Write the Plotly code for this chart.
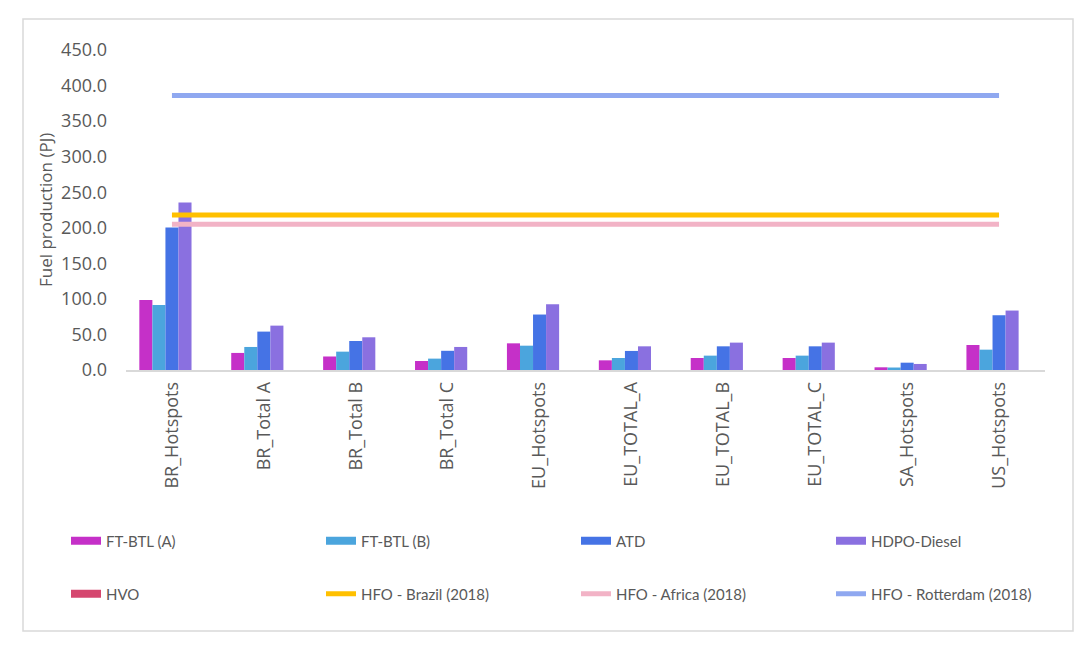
import plotly.graph_objects as go

categories = ["BR_Hotspots", "BR_Total A", "BR_Total B", "BR_Total C", "EU_Hotspots",
              "EU_TOTAL_A", "EU_TOTAL_B", "EU_TOTAL_C", "SA_Hotspots", "US_Hotspots"]
ft_btl_a = [98.5, 24.0, 19.0, 12.7, 37.5, 13.6, 16.9, 16.9, 3.8, 35.2]
ft_btl_b = [91.5, 32.4, 25.8, 16.0, 34.2, 16.9, 20.2, 20.2, 3.5, 28.6]
atd = [200.5, 54.0, 40.8, 27.0, 78.0, 26.8, 33.3, 33.3, 10.3, 77.0]
hdpo_diesel = [235.5, 62.4, 46.0, 32.4, 92.4, 33.3, 38.5, 38.5, 8.5, 83.6]
hvo = [0, 0, 0, 0, 0, 0, 0, 0, 0, 0]
hfo_brazil = 218.0
hfo_africa = 205.0
hfo_rotterdam = 386.0

bar_series = [
    ("FT-BTL (A)", ft_btl_a, "#C530C8"),
    ("FT-BTL (B)", ft_btl_b, "#4BA5DD"),
    ("ATD", atd, "#4573E5"),
    ("HDPO-Diesel", hdpo_diesel, "#8A70E0"),
    ("HVO", hvo, "#D5476F"),
]
line_series = [
    ("HFO - Brazil (2018)", hfo_brazil, "#FFC000"),
    ("HFO - Africa (2018)", hfo_africa, "#F2B3C6"),
    ("HFO - Rotterdam (2018)", hfo_rotterdam, "#8FA8F0"),
]

fig = go.Figure()
for name, vals, col in bar_series:
    fig.add_trace(go.Bar(x=categories, y=vals, name=name, marker_color=col,
                         marker_line_width=0, showlegend=False))
# legend swatches for bar series
for i, (name, vals, col) in enumerate(bar_series):
    fig.add_trace(go.Scatter(x=[None], y=[None], mode="lines", name=name,
                             line=dict(color=col, width=8),
                             legend="legend" if i < 4 else "legend2"))
for name, val, col in line_series:
    fig.add_trace(go.Scatter(x=categories, y=[val] * len(categories), mode="lines",
                             name=name, line=dict(color=col, width=5),
                             legend="legend2"))

# page offset (body margin) of the rendered page
OFF = 8
# target screen positions
L, R, T, B = 126 - OFF, 1045 - OFF, 50 - OFF, 370 - OFF
W, H = 1092, 650
pw, ph = R - L, B - T

def px_x(x):
    return (x - OFF - L) / pw

def px_y(y):
    return (B - (y - OFF)) / ph

legend_common = dict(orientation="h", xanchor="left", yanchor="middle",
                     entrywidth=210, entrywidthmode="pixels",
                     font=dict(family="Lato", size=15, color="#595959"),
                     bgcolor="rgba(0,0,0,0)", itemwidth=30)

fig.update_layout(
    width=W, height=H,
    margin=dict(l=L, r=W - R, t=T, b=H - B),
    paper_bgcolor="white", plot_bgcolor="white",
    barmode="group", bargap=0.29, bargroupgap=0,
    font=dict(family="Open Sans", color="#595959"),
    legend=dict(x=px_x(66), y=px_y(541), **legend_common),
    legend2=dict(x=px_x(66), y=px_y(594), **legend_common),
    xaxis=dict(showline=True, linecolor="#D9D9D9", linewidth=1.5, ticks="",
               tickangle=-90, tickfont=dict(size=18, color="#595959"),
               ticklabelstandoff=3, showgrid=False),
    yaxis=dict(range=[0, 450], dtick=50, tickformat=".1f", showgrid=False,
               zeroline=False, showline=False, ticks="",
               ticklabelstandoff=18,
               tickfont=dict(size=18, color="#595959")),
    annotations=[dict(text="Fuel production (PJ)", textangle=-90, x=px_x(45), y=px_y(210),
                      xref="paper", yref="paper", showarrow=False,
                      xanchor="center", yanchor="middle",
                      font=dict(size=17, color="#595959"))],
    shapes=[dict(type="rect", xref="paper", yref="paper",
                 x0=px_x(23), x1=px_x(1073), y0=px_y(631), y1=px_y(19),
                 line=dict(color="#D9D9D9", width=1.5), layer="below")],
)

fig.write_html("out.html")
